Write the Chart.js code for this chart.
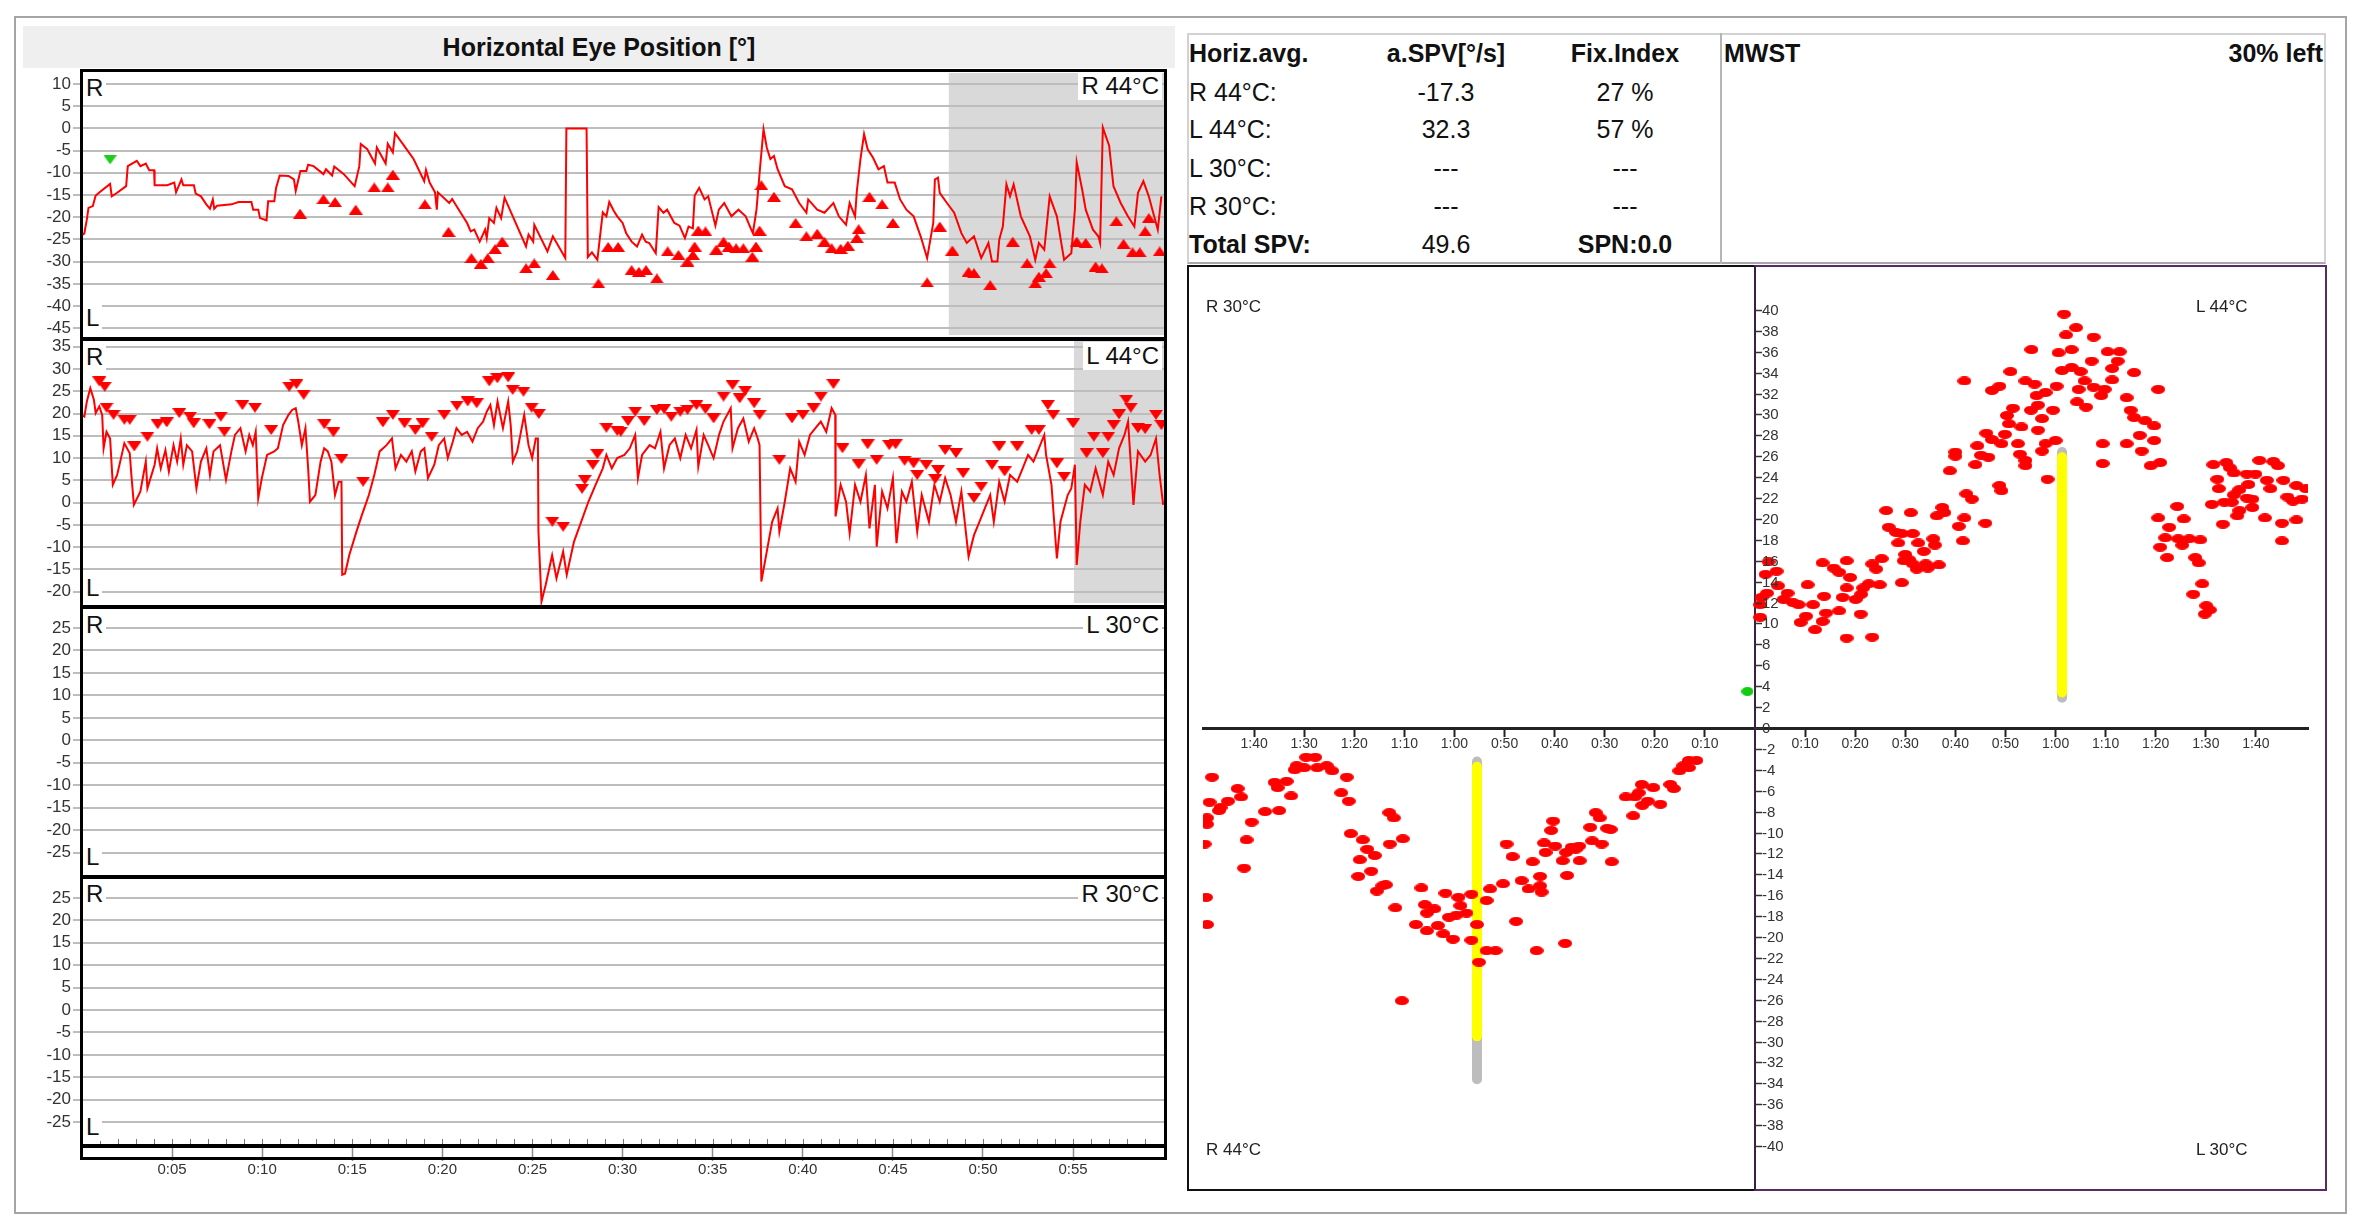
<!DOCTYPE html>
<html>
<head>
<meta charset="utf-8">
<title>Horizontal Eye Position</title>
<script src="https://cdn.jsdelivr.net/npm/chart.js@4.4.1/dist/chart.umd.min.js"></script>
<style>
  body { margin: 0; background: #fff; font-family: "Liberation Sans", Arial, sans-serif; color: #111; }
  #page { position: relative; width: 2367px; height: 1230px; overflow: hidden; }
  canvas { position: absolute; }
  .box { position: absolute; box-sizing: border-box; pointer-events: none; }
  .frame { position: absolute; box-sizing: border-box; border: 3px solid #000; pointer-events: none; }
  .tag { position: absolute; background: #fff; font-size: 24px; line-height: 28px; padding: 0 3px; white-space: nowrap; color: #111; }
  .cell { position: absolute; font-size: 25px; line-height: 30px; white-space: nowrap; }
  .c2 { left: 1346px; width: 200px; text-align: center; }
  .c3 { left: 1525px; width: 200px; text-align: center; }
  .b { font-weight: bold; }
  .q { position: absolute; font-size: 17px; line-height: 20px; color: #222; white-space: nowrap; }
</style>
</head>
<body>
<div id="page">
  <div class="box" style="left:14px;top:16px;width:2333px;height:1198px;border:2px solid #a5a5a5;"></div>

  <!-- left: eye position traces -->
  <div class="box" style="left:23px;top:26px;width:1152px;height:42px;background:#efefef;"></div>
  <div class="cell b" style="left:23px;top:26px;width:1152px;line-height:42px;text-align:center;">Horizontal Eye Position [°]</div>

  <canvas id="p1" width="1147" height="268" style="left:20px;top:70px;"></canvas>
  <canvas id="p2" width="1147" height="268" style="left:20px;top:338px;"></canvas>
  <canvas id="p3" width="1147" height="270" style="left:20px;top:606px;"></canvas>
  <canvas id="p4" width="1147" height="316" style="left:20px;top:876px;"></canvas>

  <div class="frame" style="left:80px;top:69px;width:1087px;height:272px;"></div>
  <div class="frame" style="left:80px;top:337px;width:1087px;height:272px;"></div>
  <div class="frame" style="left:80px;top:605px;width:1087px;height:274px;"></div>
  <div class="frame" style="left:80px;top:875px;width:1087px;height:273px;"></div>
  <div class="frame" style="left:80px;top:1144px;width:1087px;height:16px;"></div>

  <div class="tag" style="left:83px;top:74px;">R</div>
  <div class="tag" style="left:83px;top:304px;">L</div>
  <div class="tag" style="right:1205px;top:72px;">R 44°C</div>
  <div class="tag" style="left:83px;top:343px;">R</div>
  <div class="tag" style="left:83px;top:574px;">L</div>
  <div class="tag" style="right:1205px;top:342px;">L 44°C</div>
  <div class="tag" style="left:83px;top:611px;">R</div>
  <div class="tag" style="left:83px;top:843px;">L</div>
  <div class="tag" style="right:1205px;top:611px;">L 30°C</div>
  <div class="tag" style="left:83px;top:880px;">R</div>
  <div class="tag" style="left:83px;top:1113px;">L</div>
  <div class="tag" style="right:1205px;top:880px;">R 30°C</div>

  <!-- right: summary table -->
  <div class="box" style="left:1187px;top:33px;width:1139px;height:231px;border:2px solid #d2d2d2;border-bottom-color:#a8a8a8;"></div>
  <div class="box" style="left:1720px;top:33px;width:2px;height:231px;background:#b5b5b5;"></div>
  <div class="cell b" style="left:1189px;top:38px;">Horiz.avg.</div>
  <div class="cell b c2" style="top:38px;">a.SPV[°/s]</div>
  <div class="cell b c3" style="top:38px;">Fix.Index</div>
  <div class="cell b" style="left:1724px;top:38px;">MWST</div>
  <div class="cell b" style="right:44px;top:38px;">30% left</div>
  <div class="cell" style="left:1189px;top:77px;">R 44°C:</div>
  <div class="cell c2" style="top:77px;">-17.3</div>
  <div class="cell c3" style="top:77px;">27 %</div>
  <div class="cell" style="left:1189px;top:114px;">L 44°C:</div>
  <div class="cell c2" style="top:114px;">32.3</div>
  <div class="cell c3" style="top:114px;">57 %</div>
  <div class="cell" style="left:1189px;top:153px;">L 30°C:</div>
  <div class="cell c2" style="top:153px;">---</div>
  <div class="cell c3" style="top:153px;">---</div>
  <div class="cell" style="left:1189px;top:191px;">R 30°C:</div>
  <div class="cell c2" style="top:191px;">---</div>
  <div class="cell c3" style="top:191px;">---</div>
  <div class="cell b" style="left:1189px;top:229px;">Total SPV:</div>
  <div class="cell c2" style="top:229px;">49.6</div>
  <div class="cell b c3" style="top:229px;">SPN:0.0</div>

  <!-- right: butterfly chart -->
  <div class="box" style="left:1187px;top:265px;width:569px;height:926px;border:2px solid #111;border-right:none;"></div>
  <div class="box" style="left:1754px;top:265px;width:573px;height:926px;border:2px solid #5a2a66;"></div>
  <canvas id="bf" width="1138" height="924" style="left:1188px;top:266px;"></canvas>
  <div class="q" style="left:1206px;top:297px;">R 30°C</div>
  <div class="q" style="left:2196px;top:297px;">L 44°C</div>
  <div class="q" style="left:1206px;top:1140px;">R 44°C</div>
  <div class="q" style="left:2196px;top:1140px;">L 30°C</div>
</div>

<script>
// ---- tick labels ----
var r44Ticks = [10, 5, 0, -5, -10, -15, -20, -25, -30, -35, -40, -45];
var l44Ticks = [35, 30, 25, 20, 15, 10, 5, 0, -5, -10, -15, -20];
var c30Ticks = [25, 20, 15, 10, 5, 0, -5, -10, -15, -20, -25];
var timeTickSecs = [5, 10, 15, 20, 25, 30, 35, 40, 45, 50, 55];
var timeLabels = ['0:05', '0:10', '0:15', '0:20', '0:25', '0:30', '0:35', '0:40', '0:45', '0:50', '0:55'];
var bfTimeTicks = [-100, -90, -80, -70, -60, -50, -40, -30, -20, -10, 10, 20, 30, 40, 50, 60, 70, 80, 90, 100];
var bfTimeLabels = ['1:40', '1:30', '1:20', '1:10', '1:00', '0:50', '0:40', '0:30', '0:20', '0:10',
                    '0:10', '0:20', '0:30', '0:40', '0:50', '1:00', '1:10', '1:20', '1:30', '1:40'];
var bfSpvTicks = [40, 38, 36, 34, 32, 30, 28, 26, 24, 22, 20, 18, 16, 14, 12, 10, 8, 6, 4, 2, 0,
                  -2, -4, -6, -8, -10, -12, -14, -16, -18, -20, -22, -24, -26, -28, -30, -32, -34, -36, -38, -40];

// ---- R 44°C eye position [s, °] ----
var r44Trace = [[0.05,-24],[0.13,-23.6],[0.27,-20.5],[0.36,-17.9],[0.6,-17.5],[0.76,-15.1],[1.06,-14.1],[1.56,-12.5],[1.65,-15.3],[1.95,-14.5],
  [2.45,-13.0],[2.54,-8.5],[3.04,-7.3],[3.24,-8.5],[3.54,-7.9],[3.73,-9.4],[4.0,-9.4],[4.03,-12.8],[4.73,-12.8],[5.12,-12.2],
  [5.22,-14.4],[5.52,-11.5],[5.62,-12.8],[6.21,-12.8],[6.31,-14.7],[6.6,-15.3],[6.9,-17.1],[7.1,-18.1],[7.26,-16.0],[7.34,-18.1],
  [7.5,-17.4],[8.3,-17.1],[8.69,-16.6],[9.4,-16.6],[9.5,-18.3],[9.78,-18.3],[9.88,-20.2],[10.24,-20.7],[10.33,-16.4],[10.67,-16.4],
  [10.77,-13.4],[10.97,-10.6],[11.46,-10.7],[11.76,-11.5],[11.86,-14.1],[12.12,-9.6],[12.45,-9.6],[12.55,-8.2],[12.85,-8.5],[13.4,-10.3],
  [13.54,-9.2],[13.88,-10.6],[14.0,-8.6],[14.53,-10.3],[15.13,-13.0],[15.39,-8.5],[15.47,-3.5],[15.83,-4.7],[16.26,-7.9],[16.36,-4.3],
  [16.85,-7.9],[16.97,-3.5],[17.25,-5.4],[17.37,-1.1],[17.8,-3.5],[18.4,-6.9],[18.99,-11.9],[19.09,-9.4],[19.29,-12.2],[19.59,-14.4],
  [19.69,-18.3],[19.75,-14.4],[20.38,-16.8],[20.54,-15.9],[21.37,-21.3],[21.57,-23.2],[21.77,-22.8],[22.07,-25.5],[22.37,-22.8],[22.46,-24.7],
  [22.6,-20.2],[22.86,-21.3],[23.0,-17.9],[23.26,-20.2],[23.45,-15.6],[24.64,-26.6],[24.78,-23.9],[25.04,-25.5],[25.1,-21.7],[25.83,-27.7],
  [26.13,-24.3],[26.82,-29.2],[26.88,0],[28.0,0],[28.07,-29.0],[28.3,-27.9],[28.6,-29.6],[28.9,-18.9],[29.1,-19.8],[29.26,-16.6],
  [29.5,-18.5],[29.7,-19.8],[30.0,-21.3],[30.2,-23.6],[30.5,-25.5],[30.8,-26.6],[31.08,-23.9],[31.28,-25.5],[31.48,-25.8],[31.84,-28.1],
  [32.0,-17.7],[32.27,-19.0],[32.47,-18.3],[32.87,-21.3],[33.16,-21.9],[33.46,-24.7],[33.66,-22.1],[33.9,-22.5],[34.0,-15.1],[34.25,-13.4],
  [34.55,-16.0],[34.75,-15.3],[35.15,-21.9],[35.34,-18.3],[35.64,-16.8],[36.04,-19.8],[36.43,-18.3],[36.83,-19.8],[37.07,-22.1],[37.23,-23.6],
  [37.43,-18.3],[37.62,-9.2],[37.82,-0.2],[38.0,-4.3],[38.2,-6.9],[38.4,-6.2],[38.6,-9.2],[39.0,-13.0],[39.4,-13.7],[39.8,-16.8],
  [40.2,-19.0],[40.3,-16.0],[40.8,-18.3],[41.2,-19.0],[41.7,-16.8],[42.0,-19.8],[42.4,-21.7],[42.6,-16.8],[42.9,-19.8],[43.0,-14.1],
  [43.2,-6.9],[43.4,-1.3],[43.6,-4.7],[43.9,-6.6],[44.2,-9.2],[44.5,-8.5],[44.7,-12.2],[45.1,-12.2],[45.4,-16.0],[45.75,-18.3],
  [46.15,-19.8],[46.54,-24.3],[46.9,-29.2],[47.24,-21.3],[47.33,-11.5],[47.5,-11.1],[47.6,-14.5],[48.0,-16.8],[48.4,-19.0],[48.8,-23.6],
  [49.1,-25.8],[49.5,-24.3],[49.9,-29.2],[50.3,-25.8],[50.5,-30.0],[50.8,-30.0],[50.9,-25.1],[51.1,-22.1],[51.3,-12.6],[51.5,-15.3],
  [51.7,-12.6],[52.1,-19.8],[52.6,-24.3],[52.9,-29.6],[53.1,-25.8],[53.4,-27.3],[53.7,-15.3],[54.1,-19.8],[54.5,-29.6],[54.9,-28.1],
  [55.1,-18.3],[55.2,-7.6],[55.5,-13.7],[55.7,-18.3],[56.1,-22.8],[56.4,-24.3],[56.5,-25.8],[56.65,0.2],[57.0,-3.9],[57.24,-13.0],
  [57.64,-16.8],[58.04,-19.8],[58.4,-22.1],[58.6,-14.5],[58.9,-11.9],[59.2,-15.3],[59.4,-18.3],[59.7,-22.8],[59.9,-15.3]];
var r44Beats = [[12.1,-19.2],[13.4,-15.9],[14.04,-16.6],[15.19,-18.3],[16.22,-13.3],[16.97,-13.3],[17.25,-10.4],[19.03,-17.1],[20.34,-23.3],[21.61,-29.2],
  [22.13,-30.5],[22.52,-29.2],[22.92,-27.2],[23.32,-25.5],[24.64,-31.5],[25.1,-30.4],[26.13,-33.0],[28.66,-34.9],[29.2,-26.7],[29.75,-26.7],
  [30.5,-31.9],[30.9,-32.3],[31.3,-31.9],[31.9,-33.8],[32.5,-27.7],[33.1,-28.5],[33.6,-30.0],[33.9,-28.5],[34.0,-26.6],[34.2,-23.0],
  [34.6,-23.2],[35.2,-27.3],[35.6,-25.5],[35.9,-26.6],[36.3,-27.0],[36.7,-27.0],[37.2,-28.9],[37.4,-26.6],[37.6,-23.0],[37.7,-12.8],
  [38.4,-15.4],[39.6,-21.3],[40.2,-24.3],[40.8,-23.7],[41.2,-25.5],[41.6,-27.0],[42.1,-27.1],[42.5,-26.4],[43.0,-24.7],[43.1,-22.7],
  [43.7,-15.4],[44.4,-17.1],[45.0,-21.3],[46.9,-34.7],[47.6,-22.1],[48.3,-27.5],[49.2,-32.3],[49.5,-32.6],[50.4,-35.3],[51.65,-25.5],
  [52.45,-30.4],[52.9,-34.9],[53.1,-33.4],[53.5,-32.6],[53.7,-30.4],[55.2,-25.5],[55.7,-25.8],[56.25,-31.1],[56.6,-31.5],[57.4,-20.9],
  [57.8,-26.0],[58.3,-27.9],[58.7,-27.9],[59.0,-23.2],[59.2,-20.2],[59.8,-27.7]];
var r44Marker = [[1.56,-7.1]];
var r44ShadeFrom = 48.1;

// ---- L 44°C eye position [s, °] ----
var l44Trace = [[0.05,19.5],[0.13,19.3],[0.27,22.7],[0.46,25.7],[0.66,23.1],[0.76,20.1],[0.96,21.6],[1.12,19.7],[1.2,12.2],[1.36,15.9],
  [1.56,14.4],[1.71,4.0],[1.95,6.2],[2.25,11.5],[2.35,13.3],[2.65,11.1],[2.74,6.2],[2.88,-0.5],[3.24,2.5],[3.54,9.2],
  [3.63,3.2],[4.03,8.5],[4.17,12.2],[4.37,7.7],[4.63,11.8],[4.82,7.0],[5.08,12.9],[5.28,9.2],[5.48,14.4],[5.62,8.5],
  [5.82,12.9],[6.11,11.5],[6.35,3.2],[6.6,9.2],[6.9,12.2],[7.1,6.2],[7.3,11.5],[7.66,12.9],[7.99,5.1],[8.29,11.5],
  [8.49,15.2],[8.79,16.7],[9.08,11.5],[9.28,15.2],[9.48,12.9],[9.64,15.9],[9.78,1.0],[9.98,5.5],[10.27,10.7],[10.67,11.5],
  [10.87,12.2],[11.16,17.4],[11.46,19.7],[11.66,20.8],[11.86,21.2],[12.0,18.2],[12.2,12.9],[12.4,16.7],[12.55,7.7],[12.65,0.2],
  [12.95,1.7],[13.24,9.2],[13.44,12.2],[13.64,11.5],[13.84,9.2],[14.04,1.7],[14.24,4.7],[14.4,4.7],[14.44,-16.2],[14.6,-15.9],
  [14.83,-11.8],[15.23,-6.5],[15.53,-2.8],[15.73,-0.5],[15.92,1.7],[16.22,6.2],[16.52,11.5],[16.9,12.9],[17.2,14.4],[17.4,7.7],
  [17.7,10.7],[18.0,9.2],[18.3,11.5],[18.5,7.0],[18.8,11.5],[19.0,12.2],[19.2,5.5],[19.55,8.5],[19.8,12.9],[20.1,14.4],
  [20.3,10.0],[20.58,13.7],[20.78,16.7],[21.07,15.2],[21.37,15.9],[21.67,13.7],[21.96,16.7],[22.26,18.2],[22.46,20.4],[22.66,21.9],
  [22.86,17.4],[23.06,22.7],[23.36,16.7],[23.65,22.7],[23.79,17.4],[23.91,9.2],[24.15,11.5],[24.54,19.7],[24.78,12.9],[24.98,10.0],
  [25.18,14.4],[25.3,14.4],[25.33,-6.5],[25.5,-22.2],[25.73,-18.5],[26.09,-11.8],[26.33,-17.0],[26.7,-11.0],[26.9,-16.2],[27.3,-8.8],
  [27.7,-4.3],[28.1,0.2],[28.5,4.0],[28.9,7.7],[29.1,10.7],[29.4,7.7],[29.7,10.0],[30.1,10.7],[30.4,12.2],[30.7,15.2],
  [30.85,5.5],[31.08,10.7],[31.5,12.9],[31.8,12.2],[32.1,15.9],[32.3,7.7],[32.6,12.9],[32.9,14.4],[33.2,10.0],[33.5,15.2],
  [33.8,12.2],[34.1,16.3],[34.2,8.1],[34.5,15.2],[34.75,12.9],[35.05,10.0],[35.35,15.2],[35.6,18.2],[36.0,21.2],[36.1,12.2],
  [36.4,16.7],[36.7,18.9],[37.0,13.7],[37.3,16.7],[37.5,14.4],[37.6,12.9],[37.7,-17.7],[38.0,-11.0],[38.3,-4.3],[38.6,-1.3],
  [38.7,-6.5],[39.0,0.2],[39.3,7.7],[39.6,4.7],[39.8,13.7],[40.1,10.7],[40.4,15.2],[40.7,16.7],[41.0,18.2],[41.3,15.9],
  [41.6,21.2],[41.8,19.7],[41.82,-3.1],[42.1,4.0],[42.4,0.2],[42.6,-6.9],[42.9,4.0],[43.2,0.2],[43.5,6.2],[43.7,-5.8],
  [44.0,4.0],[44.1,-9.9],[44.4,2.5],[44.7,-1.3],[45.0,5.5],[45.2,-9.1],[45.5,2.5],[45.75,0.2],[46.05,4.7],[46.35,-6.5],
  [46.6,1.7],[47.0,-4.3],[47.3,4.0],[47.6,0.2],[47.9,5.5],[48.2,1.7],[48.5,-4.3],[48.8,2.5],[49.2,-12.1],[49.5,-7.3],
  [49.8,-4.3],[50.1,-1.3],[50.4,1.7],[50.6,-4.3],[50.9,4.7],[51.2,0.2],[51.5,6.2],[51.9,4.7],[52.2,7.7],[52.5,10.7],
  [52.8,9.2],[53.1,12.2],[53.4,15.2],[53.5,10.7],[53.8,4.0],[54.1,-12.5],[54.3,-4.3],[54.7,1.7],[54.9,3.2],[55.1,8.5],
  [55.2,-14.0],[55.4,-4.3],[55.65,4.0],[55.95,2.5],[56.25,7.7],[56.65,1.7],[56.95,9.2],[57.25,6.2],[57.55,12.2],[57.85,15.2],
  [58.05,18.2],[58.35,-0.5],[58.6,11.5],[59.0,9.2],[59.3,10.7],[59.6,14.4],[59.8,6.2],[60.0,-0.5]];
var l44Beats = [[0.96,27.2],[1.26,26.0],[1.36,21.3],[1.75,19.7],[2.35,18.6],[2.65,18.6],[2.9,12.6],[3.63,14.8],[4.2,17.6],[4.7,18.0],
  [5.4,20.1],[6.0,19.3],[6.2,17.8],[7.07,17.6],[7.7,19.3],[7.9,15.9],[8.9,21.9],[9.6,21.3],[10.5,16.3],[11.5,26.0],
  [11.9,26.6],[12.3,24.2],[13.45,17.6],[13.95,15.8],[14.4,9.8],[15.6,4.7],[16.7,18.0],[17.25,19.7],[17.9,17.8],[18.5,16.3],
  [18.9,17.8],[19.4,14.8],[20.1,19.7],[20.8,21.8],[21.4,22.7],[21.9,22.3],[22.6,27.2],[23.05,27.9],[23.65,28.1],[23.9,25.3],
  [24.5,24.9],[24.95,21.3],[25.35,19.9],[26.1,-4.3],[26.7,-5.4],[27.75,3.1],[27.9,5.1],[28.35,8.5],[28.6,10.9],[29.1,16.8],
  [29.7,16.1],[29.9,15.9],[30.3,18.3],[30.7,20.4],[31.2,18.3],[31.9,20.8],[32.3,21.0],[32.7,19.3],[33.2,20.4],[33.6,20.8],
  [34.1,21.9],[34.6,21.0],[35.05,18.9],[35.6,23.8],[36.1,26.4],[36.5,23.4],[36.8,25.1],[37.3,22.3],[37.6,19.7],[38.7,9.6],
  [39.4,18.9],[40.0,19.7],[40.6,21.2],[41.0,23.8],[41.7,26.6],[42.2,12.2],[43.1,8.6],[43.6,13.1],[44.1,9.6],[44.8,12.9],
  [45.15,13.1],[45.65,9.4],[46.15,8.8],[46.35,6.2],[46.85,8.5],[47.35,5.3],[47.5,7.3],[47.9,11.8],[48.5,11.1],[48.9,6.6],
  [49.5,1.0],[49.9,3.6],[50.5,8.5],[50.9,12.6],[51.2,7.0],[51.9,12.6],[52.7,16.3],[53.1,16.3],[53.6,21.9],[53.9,19.7],
  [54.1,8.8],[54.5,5.8],[55.0,17.8],[55.75,11.1],[56.15,14.8],[56.65,11.1],[56.95,14.8],[57.25,17.4],[57.55,19.8],[57.95,23.1],
  [58.2,21.3],[58.6,16.7],[59.0,16.5],[59.6,19.7],[59.9,17.4]];
var l44ShadeFrom = 55.05;

// ---- slow phase velocity per beat [s, °/s] ----
var l44Spv = [[61.7,39.6],[64.1,38.3],[62.1,37.6],[67.6,37.4],[55.2,36.2],[60.6,35.9],[63.2,36.2],[70.4,36.0],[72.8,36.0],[67.2,35.1],
  [72.4,35.1],[51.0,34.1],[61.3,34.2],[63.2,34.5],[65.0,34.1],[71.3,34.4],[75.7,34.0],[41.8,33.2],[48.8,32.7],[47.3,32.3],
  [54.0,33.2],[55.8,32.9],[60.2,32.7],[65.8,33.2],[71.3,33.3],[80.5,32.4],[58.0,32.1],[56.2,31.8],[64.6,32.4],[67.6,32.6],
  [69.8,32.4],[69.1,31.8],[74.2,31.6],[64.3,31.2],[66.1,30.7],[51.5,30.6],[56.5,30.9],[59.5,30.4],[55.1,30.4],[75.0,30.4],
  [50.3,29.9],[75.7,29.7],[77.9,29.4],[79.7,28.9],[57.3,29.6],[50.7,29.1],[53.2,28.8],[56.5,28.5],[46.2,28.2],[49.9,28.1],
  [47.3,27.6],[49.2,27.2],[76.8,28.0],[79.7,27.5],[44.4,27.0],[52.5,27.2],[58.0,27.2],[60.0,27.5],[69.4,27.2],[74.2,27.2],
  [77.2,26.5],[40.0,26.4],[45.1,26.1],[52.9,26.2],[57.3,26.5],[40.0,26.0],[46.6,25.9],[54.0,25.6],[44.0,25.2],[54.0,25.1],
  [69.4,25.3],[79.0,25.1],[80.9,25.4],[38.9,24.6],[58.4,23.8],[48.8,23.2],[49.2,22.7],[42.2,22.4],[43.3,21.9],[37.4,21.1],
  [36.3,20.3],[37.8,20.6],[26.2,20.8],[31.1,20.6],[41.8,20.1],[40.7,19.3],[46.0,19.6],[26.7,19.2],[28.2,18.7],[29.3,18.6],
  [31.5,18.6],[35.6,18.1],[28.6,17.7],[32.6,17.7],[35.9,17.5],[41.5,17.9],[25.3,16.2],[23.4,15.7],[24.2,15.2],[30.0,16.6],
  [30.8,16.1],[33.7,16.9],[31.5,15.7],[34.1,15.7],[36.7,15.6],[32.3,15.2],[34.5,15.3],[29.7,16.0],[18.3,16.0],[13.5,15.8],
  [15.7,15.3],[16.8,14.9],[2.7,15.9],[2.1,14.7],[4.3,15.0],[19.0,14.4],[22.7,13.8],[24.9,13.7],[29.3,13.9],[4.6,13.6],
  [10.5,13.7],[21.6,13.4],[18.3,13.4],[21.2,12.8],[2.4,12.9],[6.5,12.9],[1.3,12.5],[20.1,12.3],[17.5,12.5],[5.7,12.3],
  [13.8,12.6],[1.0,11.8],[7.6,12.0],[8.7,11.8],[11.6,11.8],[16.8,11.2],[14.2,11.0],[10.2,10.7],[1.0,10.6],[9.1,10.1],
  [13.5,10.2],[21.1,10.9],[12.0,9.4],[18.3,8.6],[23.4,8.7],
  [80.5,20.1],[82.7,19.2],[84.3,21.2],[85.6,20.0],[81.9,18.2],[80.9,17.3],[82.3,16.3],[84.5,18.1],[86.7,18.1],[88.9,18.0],
  [85.3,17.5],[87.9,16.3],[88.6,15.8],[89.3,13.8],[87.5,12.8],[90.1,11.7],[90.8,11.3],[89.8,10.9],
  [91.5,25.2],[94.1,25.4],[94.8,24.9],[92.3,23.8],[92.6,22.9],[95.6,24.4],[98.2,24.3],[100.7,25.6],[103.5,25.5],[104.4,25.1],
  [99.9,24.3],[102.2,23.7],[105.5,23.7],[108.1,23.2],[110.0,22.9],[96.7,22.8],[98.5,23.3],[95.6,22.3],[102.9,22.9],[106.3,22.1],
  [109.2,21.9],[91.2,21.4],[93.7,21.6],[95.2,21.6],[98.2,22.0],[99.3,21.9],[107.4,21.7],[99.3,21.1],[96.7,20.8],[96.3,20.3],
  [93.4,19.5],[101.8,20.1],[105.2,19.6],[108.1,19.9],[105.2,17.9]];
var r44Spv = [[13.2,-3.1],[11.7,-3.1],[14.3,-3.6],[13.2,-3.8],[15.1,-4.1],[16.9,-5.4],[16.2,-5.8],[20.3,-5.7],[22.6,-5.4],[23.2,-6.2],
  [25.8,-6.6],[24.0,-6.6],[21.4,-7.0],[22.5,-7.4],[18.9,-7.3],[24.3,-8.4],[31.8,-8.1],[31.0,-8.6],[32.9,-9.5],[29.5,-9.6],
  [28.8,-9.7],[40.3,-8.9],[40.7,-9.8],[42.1,-11.0],[39.9,-11.3],[36.6,-11.4],[35.1,-11.3],[32.5,-10.8],[30.6,-11.1],[37.7,-11.9],
  [35.8,-11.6],[41.8,-11.9],[38.4,-12.7],[35.0,-12.7],[28.6,-12.8],[44.4,-12.8],[49.6,-11.1],[48.4,-12.3],[37.5,-14.1],[42.9,-14.2],
  [46.6,-14.6],[50.3,-14.9],[45.2,-15.4],[42.6,-15.7],[42.9,-15.1],[52.9,-15.4],[53.6,-16.5],[47.7,-18.5],[55.5,-18.8],[56.6,-20.3],
  [53.6,-21.3],[51.8,-21.3],[55.1,-22.4],[37.9,-20.6],[43.6,-21.3],[56.6,-15.9],[59.2,-16.2],[61.8,-15.8],[57.6,-17.7],[58.8,-17.0],
  [61.1,-18.1],[59.6,-17.9],[66.6,-15.3],[65.9,-16.9],[64.0,-17.3],[65.5,-17.7],[67.7,-18.8],[65.5,-19.4],[63.3,-18.9],[62.2,-19.7],
  [60.3,-20.2],[71.8,-17.2],[75.5,-15.6],[74.4,-15.1],[73.7,-15.0],[79.2,-14.2],[76.6,-13.7],[78.9,-12.6],[77.4,-11.6],[75.9,-12.2],
  [78.3,-10.7],[80.7,-10.1],[72.9,-11.1],[70.3,-10.6],[73.0,-8.1],[72.1,-8.6],[81.1,-7.0],[82.6,-6.2],[81.5,-4.7],[84.4,-4.1],
  [85.5,-3.6],[87.4,-3.8],[87.8,-2.8],[89.6,-2.8],[91.5,-3.6],[91.9,-4.0],[90.0,-3.8],[93.5,-5.1],[92.6,-6.5],[95.9,-5.2],
  [95.3,-5.7],[95.0,-7.9],[97.8,-8.0],[103.3,-5.8],[102.6,-6.6],[105.2,-7.0],[106.7,-7.6],[107.0,-7.9],[108.4,-4.7],[108.9,-7.1],
  [109.4,-8.6],[109.4,-9.2],[109.9,-11.1],[100.5,-9.0],[101.5,-10.7],[102.0,-13.4],[109.6,-16.2],[109.4,-18.8],[70.5,-26.1]];
var spontDot = [[-1.5, 3.5]];
// culmination bars: [time, from, to]
var l44Culm = [61.3, 3.4, 25.9];
var l44CulmRange = [61.3, 2.9, 26.4];
var r44Culm = [55.5, -3.7, -29.5];
var r44CulmRange = [55.5, -3.2, -33.6];

// ---- helpers ----
Chart.defaults.font.family = '"Liberation Sans", Arial, sans-serif';

function pts(arr) {
    return arr.map(function (p) { return { x: p[0], y: p[1] }; });
}

function ellipseImage(color, w, h) {
    var c = document.createElement('canvas');
    c.width = w; c.height = h;
    var g = c.getContext('2d');
    g.fillStyle = color;
    g.beginPath();
    g.ellipse(w / 2, h / 2, w / 2, h / 2, 0, 0, 2 * Math.PI);
    g.fill();
    return c;
}

function triangleImage(color, w, h, down) {
    var c = document.createElement('canvas');
    c.width = w; c.height = h;
    var g = c.getContext('2d');
    g.fillStyle = color;
    g.beginPath();
    if (down) { g.moveTo(0, 0); g.lineTo(w, 0); g.lineTo(w / 2, h); }
    else { g.moveTo(w / 2, 0); g.lineTo(w, h); g.lineTo(0, h); }
    g.closePath();
    g.fill();
    return c;
}

var shadePlugin = {
    id: 'shade',
    beforeDraw: function (chart, args, opts) {
        if (opts.from == null) return;
        var a = chart.chartArea;
        var x = chart.scales.x.getPixelForValue(opts.from);
        var c = chart.ctx;
        c.save();
        c.fillStyle = '#d9d9d9';
        c.fillRect(x, a.top + 3, a.right - x, a.bottom - a.top - 6);
        c.restore();
    }
};

// little second marks at the bottom of the last panel
var secondMarks = {
    id: 'secondMarks',
    afterDraw: function (chart) {
        var xs = chart.scales.x, a = chart.chartArea, c = chart.ctx;
        c.save();
        c.strokeStyle = '#777';
        c.lineWidth = 1;
        for (var s = 1; s < 60; s++) {
            var x = Math.round(xs.getPixelForValue(s)) + 0.5;
            c.beginPath();
            c.moveTo(x, a.bottom - 6);
            c.lineTo(x, a.bottom - 1);
            c.stroke();
        }
        c.restore();
    }
};

function yAxis(min, max, ticks) {
    return {
        min: min,
        max: max,
        afterBuildTicks: function (s) { s.ticks = ticks.map(function (v) { return { value: v }; }); },
        afterFit: function (s) { s.width = 62; s.paddingTop = 0; s.paddingBottom = 0; },
        grid: { color: '#bdbdbd', lineWidth: 2, drawTicks: true, tickLength: 9 },
        border: { display: false },
        ticks: { autoSkip: false, color: '#333', padding: 2, font: { size: 17 } }
    };
}

function panel(id, yMin, yMax, ticks, datasets, shadeFrom, timeAxis) {
    var x = { type: 'linear', min: 0, max: 60.1, display: false };
    if (timeAxis) {
        x = {
            type: 'linear', min: 0, max: 60.1, position: 'bottom',
            afterBuildTicks: function (s) { s.ticks = timeTickSecs.map(function (v) { return { value: v }; }); },
            afterFit: function (s) { s.height = 47; s.paddingLeft = 0; s.paddingRight = 0; },
            grid: { drawOnChartArea: false, drawTicks: true, tickLength: 16, tickColor: '#8c8c8c', tickWidth: 1.5 },
            border: { display: false },
            ticks: {
                autoSkip: false, maxRotation: 0, padding: 0, color: '#333', font: { size: 15 },
                callback: function (v, i) { return timeLabels[i]; }
            }
        };
    }
    return new Chart(document.getElementById(id), {
        type: 'scatter',
        data: { datasets: datasets },
        options: {
            responsive: false,
            animation: false,
            layout: { autoPadding: false, padding: { left: 0, right: 2, top: 0, bottom: 0 } },
            plugins: { legend: { display: false }, tooltip: { enabled: false }, shade: { from: shadeFrom } },
            scales: { x: x, y: yAxis(yMin, yMax, ticks) }
        },
        plugins: timeAxis ? [shadePlugin, secondMarks] : [shadePlugin]
    });
}

var redUp = triangleImage('#ff0000', 14, 10, false);
var redDown = triangleImage('#ff0000', 14, 10, true);
var greenDown = triangleImage('#1fcc1f', 13, 9, true);

panel('p1', -47.2, 13.15, r44Ticks, [
    { data: pts(r44Marker), pointStyle: greenDown, pointRadius: 6 },
    { data: pts(r44Beats), pointStyle: redUp, pointRadius: 6 },
    { data: pts(r44Trace), showLine: true, borderColor: '#ff0000', borderWidth: 2, pointRadius: 0 }
], r44ShadeFrom, false);

panel('p2', -23.2, 36.95, l44Ticks, [
    { data: pts(l44Beats), pointStyle: redDown, pointRadius: 6 },
    { data: pts(l44Trace), showLine: true, borderColor: '#ff0000', borderWidth: 2, pointRadius: 0 }
], l44ShadeFrom, false);

panel('p3', -30.2, 29.9, c30Ticks, [], null, false);
panel('p4', -30.1, 29.9, c30Ticks, [], null, true);

// ---- butterfly chart ----
var spvLabels = {
    id: 'spvLabels',
    afterDraw: function (chart) {
        var ys = chart.scales.y, c = chart.ctx;
        var x0 = chart.scales.x.getPixelForValue(0);
        c.save();
        c.strokeStyle = '#333';
        c.fillStyle = '#333';
        c.lineWidth = 1.5;
        c.font = '15px "Liberation Sans", Arial, sans-serif';
        c.textAlign = 'left';
        c.textBaseline = 'middle';
        ys.ticks.forEach(function (t) {
            var y = Math.round(ys.getPixelForValue(t.value)) + 0.5;
            c.beginPath();
            c.moveTo(x0, y);
            c.lineTo(x0 + 7, y);
            c.stroke();
            c.fillText(String(t.value), x0 + 7, y);
        });
        c.restore();
    }
};

var redDot = ellipseImage('#ff0000', 14, 9);
var greenDot = ellipseImage('#11cc11', 12, 9);

function bar(spec, color, order) {
    return {
        data: [{ x: spec[0], y: spec[1] }, { x: spec[0], y: spec[2] }],
        showLine: true, borderColor: color, borderWidth: 10, borderCapStyle: 'round',
        pointRadius: 0, order: order
    };
}

new Chart(document.getElementById('bf'), {
    type: 'scatter',
    data: {
        datasets: [
            { data: pts(l44Spv), pointStyle: redDot, pointRadius: 6, order: 0 },
            { data: r44Spv.map(function (p) { return { x: -p[0], y: p[1] }; }), pointStyle: redDot, pointRadius: 6, order: 0 },
            { data: pts(spontDot), pointStyle: greenDot, pointRadius: 6, order: 0 },
            bar(l44Culm, '#ffff00', 1),
            bar([-r44Culm[0], r44Culm[1], r44Culm[2]], '#ffff00', 1),
            bar(l44CulmRange, '#bdbdbd', 2),
            bar([-r44CulmRange[0], r44CulmRange[1], r44CulmRange[2]], '#bdbdbd', 2)
        ]
    },
    options: {
        responsive: false,
        animation: false,
        layout: { autoPadding: false, padding: { left: 15, right: 18, top: 0, bottom: 0 } },
        plugins: { legend: { display: false }, tooltip: { enabled: false } },
        scales: {
            x: {
                type: 'linear', min: -110.2, max: 110.4, position: { y: 0 },
                afterBuildTicks: function (s) { s.ticks = bfTimeTicks.map(function (v) { return { value: v }; }); },
                afterFit: function (s) { s.paddingLeft = 0; s.paddingRight = 0; },
                grid: { drawOnChartArea: false, drawTicks: true, tickLength: 7, tickColor: '#222', tickWidth: 2 },
                border: { display: true, color: '#222', width: 3 },
                ticks: {
                    autoSkip: false, maxRotation: 0, padding: 1, color: '#333', font: { size: 14 },
                    callback: function (v, i) { return bfTimeLabels[i]; }
                }
            },
            y: {
                type: 'linear', min: -44.2, max: 44.2, position: { x: 0 },
                afterBuildTicks: function (s) { s.ticks = bfSpvTicks.map(function (v) { return { value: v }; }); },
                afterFit: function (s) { s.paddingTop = 0; s.paddingBottom = 0; },
                grid: { drawOnChartArea: false, drawTicks: false },
                border: { display: true, color: '#3a2146', width: 2 },
                ticks: { display: false }
            }
        }
    },
    plugins: [spvLabels]
});
</script>
</body>
</html>
